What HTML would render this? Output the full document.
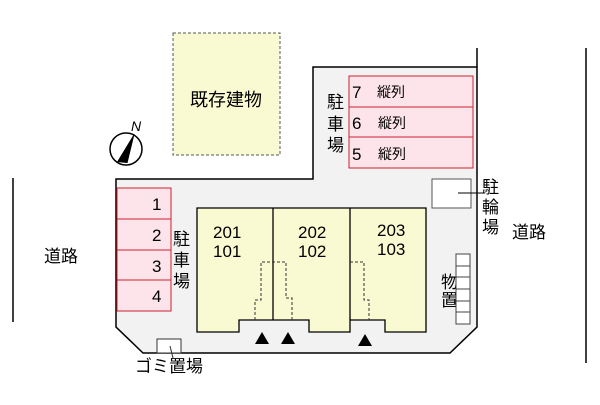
<!DOCTYPE html>
<html><head><meta charset="utf-8"><style>
body{margin:0;background:#fff}
svg text{font-family:"Liberation Sans","Noto Sans CJK JP",sans-serif;fill:#000}
</style></head><body>
<svg width="600" height="400" viewBox="0 0 600 400" xmlns="http://www.w3.org/2000/svg">
<line x1="13" y1="178" x2="13" y2="322" stroke="#000" stroke-width="1.5"/>
<line x1="586" y1="48" x2="586" y2="363" stroke="#000" stroke-width="1.5"/>
<text x="44" y="262" font-size="17">道路</text>
<text x="512" y="238" font-size="17">道路</text>
<line x1="477" y1="48" x2="477" y2="67" stroke="#000" stroke-width="1.5"/>
<polygon points="313,67 477,67 477,327 450,353 143,353 116,327 116,179 313,179" fill="#f2f2f2" stroke="#000" stroke-width="1.5"/>
<rect x="173" y="33" width="107" height="122" fill="#fafad2" stroke="#555" stroke-dasharray="3,2"/>
<text x="190" y="106" font-size="18">既存建物</text>
<g stroke="#d02030" fill="#fde4ea">
<rect x="349" y="76" width="124" height="31"/><rect x="349" y="107" width="124" height="30"/><rect x="349" y="137" width="124" height="31"/>
<rect x="117" y="188" width="54" height="31"/><rect x="117" y="219" width="54" height="31"/><rect x="117" y="250" width="54" height="30"/><rect x="117" y="280" width="54" height="31"/>
</g>
<g font-size="17"><text x="352" y="98">7</text><text x="352" y="129">6</text><text x="352" y="160">5</text>
<text x="152" y="210">1</text><text x="152" y="241">2</text><text x="152" y="272">3</text><text x="152" y="302">4</text></g>
<g font-size="14"><text x="377" y="97">縦列</text><text x="378" y="128">縦列</text><text x="378" y="159">縦列</text></g>
<g font-size="17"><text x="327" y="108">駐</text><text x="327" y="130">車</text><text x="327" y="151">場</text>
<text x="173" y="245">駐</text><text x="173" y="266">車</text><text x="173" y="287">場</text>
<text x="482" y="193">駐</text><text x="482" y="213">輪</text><text x="482" y="233">場</text>
<text x="441" y="288">物</text><text x="441" y="306">置</text>
<text x="135" y="372">ゴミ置場</text></g>
<polygon points="197,208 426,208 426,332 385,332 385,320 350,320 350,332 309,332 309,320 239,320 239,332 197,332" fill="#fafad2" stroke="#000" stroke-width="1.3"/>
<line x1="273" y1="208" x2="273" y2="320" stroke="#000" stroke-width="1.3"/>
<line x1="350" y1="208" x2="350" y2="320" stroke="#000" stroke-width="1.3"/>
<g fill="none" stroke="#333" stroke-dasharray="3,2">
<polyline points="255,320 255,300 261,300 261,262 286,262 286,298 292,298 292,320"/>
<polyline points="350,262 364,262 364,300 369,300 369,320"/>
</g>
<g font-size="17"><text x="213" y="238">201</text><text x="213" y="257">101</text>
<text x="298" y="238">202</text><text x="298" y="257">102</text>
<text x="377" y="236">203</text><text x="377" y="255">103</text></g>
<g fill="#000"><polygon points="262,332 255,344 269,344"/><polygon points="288,332 281,344 295,344"/><polygon points="365,334 358,346 372,346"/></g>
<rect x="432" y="179" width="39" height="29" fill="#fff" stroke="#555"/>
<line x1="458" y1="193" x2="485" y2="193" stroke="#000"/>
<g fill="#fff" stroke="#444"><rect x="456" y="254" width="14" height="12"/><rect x="456" y="266" width="14" height="11"/><rect x="456" y="277" width="14" height="12"/><rect x="456" y="289" width="14" height="12"/><rect x="456" y="301" width="14" height="11"/><rect x="456" y="312" width="14" height="12"/></g>
<rect x="157" y="339" width="24" height="14" fill="#fff" stroke="#333"/>
<line x1="170" y1="346" x2="173" y2="358" stroke="#333"/>
<circle cx="126" cy="149" r="16" fill="#fff" stroke="#000" stroke-width="1.5"/>
<polygon points="134,134 117,162 127,163" fill="#000"/>
<line x1="134" y1="134" x2="127" y2="163" stroke="#000"/>
<text x="131" y="131" font-size="14" font-style="italic">N</text>
</svg>
</body></html>
